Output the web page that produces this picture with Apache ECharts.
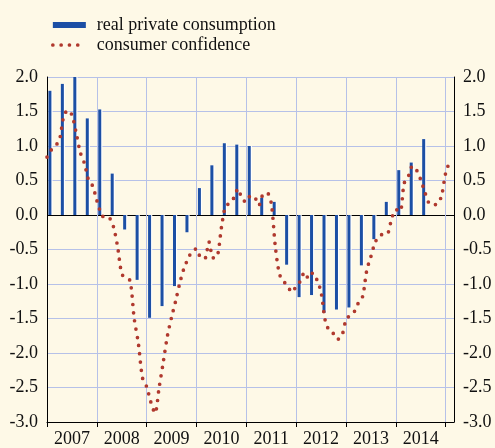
<!DOCTYPE html>
<html>
<head>
<meta charset="utf-8">
<script src="https://cdn.jsdelivr.net/npm/echarts@6/dist/echarts.min.js"></script>
<style>
  html, body { margin: 0; padding: 0; background: #fef9e7; }
  #main { width: 495px; height: 448px; }
</style>
</head>
<body>
<div id="main"></div>
<script>
// year labels, one per year block
var years = ['2007', '2008', '2009', '2010', '2011', '2012', '2013', '2014'];
// real private consumption, quarterly from 2007Q1 (last one 2014Q3)
var consumption = [1.8, 1.9, 2.0, 1.4,
    1.53, 0.6, -0.21, -0.94,
    -1.49, -1.32, -1.03, -0.25,
    0.39, 0.72, 1.04, 1.02,
    1.0, 0.25, 0.19, -0.72,
    -1.19, -1.16, -1.42, -1.37,
    -1.34, -0.73, -0.35, 0.19,
    0.65, 0.76, 1.1];
// consumer confidence, monthly from Jan 2007
var confidence = [0.84, 0.94, 1.00, 1.09, 1.42, 1.52, 1.45, 1.20, 0.91, 0.75, 0.51, 0.42,
    0.21, 0.03, -0.05, -0.05, -0.17, -0.46, -0.85, -0.92, -0.95, -1.50, -1.86, -2.36,
    -2.49, -2.71, -2.87, -2.50, -2.13, -1.75, -1.48, -1.24, -0.98, -0.77, -0.63, -0.52,
    -0.49, -0.62, -0.63, -0.39, -0.62, -0.60, -0.18, 0.13, 0.17, 0.25, 0.38, 0.23,
    0.19, 0.28, 0.26, 0.14, 0.30, 0.32, 0.17, -0.47, -0.86, -0.96, -1.04, -1.12,
    -1.03, -0.96, -0.83, -0.92, -0.84, -0.94, -1.12, -1.53, -1.68, -1.72, -1.80, -1.75,
    -1.52, -1.45, -1.40, -1.27, -1.18, -0.80, -0.60, -0.40, -0.30, -0.28, -0.27, -0.05,
    0.08, 0.05, 0.46, 0.56, 0.71, 0.65, 0.51, 0.33, 0.17, 0.15, 0.16, 0.28,
    0.61, 0.78];

var gridColor = '#b6c1e8';
var font = 'Liberation Serif';
var dotColor = '#b0392e';

// x axis is counted in months from Jan 2007
var barData = [];
for (var i = 0; i < consumption.length; i++) {
    barData.push([i * 3 + 0.7, consumption[i]]);
}
var lineData = [];
for (var j = 0; j < confidence.length; j++) {
    lineData.push([j, confidence[j]]);
}
var yearTicks = [];
var yearMids = [];
for (var k = 0; k < years.length; k++) {
    yearMids.push(k * 12 + 6);
}
for (var k = 0; k <= years.length; k++) {
    yearTicks.push(k * 12);
}

// grid colour per split line, black at zero
var splitColors = [];
for (var s = 0; s <= 10; s++) {
    splitColors.push(s === 6 ? '#000' : gridColor);
}

var yAxisBase = {
    type: 'value',
    min: -3,
    max: 2,
    interval: 0.5,
    axisLine: { show: true, lineStyle: { color: '#000', width: 1 } },
    axisTick: { show: false },
    axisLabel: {
        margin: 9,
        color: '#111',
        fontFamily: font,
        fontSize: 18,
        formatter: function (v) { return v.toFixed(1); }
    }
};

var chart = echarts.init(document.getElementById('main'));
var option = {
    backgroundColor: '#fef9e7',
    animation: false,
    textStyle: { fontFamily: font },
    legend: {
        orient: 'vertical',
        left: 46,
        top: 11,
        itemWidth: 33,
        itemHeight: 6,
        itemGap: 2,
        textStyle: { fontFamily: font, fontSize: 18, color: '#111', padding: [0, 0, 0, 6] },
        data: [
            { name: 'real private consumption', icon: 'rect' },
            {
                name: 'consumer confidence',
                itemStyle: { opacity: 0 },
                lineStyle: { width: 3.7, color: dotColor, type: [0, 8.3], cap: 'round' }
            }
        ]
    },
    grid: { left: 47, right: 41, top: 77, bottom: 25, containLabel: false },
    xAxis: {
        type: 'value',
        min: 0,
        max: 98,
        interval: 12,
        axisLine: { show: true, onZero: false, lineStyle: { color: '#000', width: 1 } },
        axisTick: { show: true, inside: false, length: 5, customValues: yearTicks, lineStyle: { color: '#000' } },
        splitLine: { show: true, lineStyle: { color: gridColor, width: 1 } },
        axisLabel: {
            customValues: yearMids,
            margin: 8,
            color: '#111',
            fontFamily: font,
            fontSize: 18,
            formatter: function (v) { return years[Math.round((v - 6) / 12)]; }
        }
    },
    yAxis: [
        echarts.util.merge({
            position: 'left',
            splitLine: { show: true, lineStyle: { color: splitColors, width: 1 } }
        }, yAxisBase, true),
        echarts.util.merge({
            position: 'right',
            splitLine: { show: false }
        }, yAxisBase, true)
    ],
    series: [
        {
            name: 'real private consumption',
            type: 'bar',
            barWidth: 3,
            data: barData,
            itemStyle: {
                color: '#1c4fa5',
                shadowColor: 'rgba(255,255,255,0.95)',
                shadowOffsetX: 1.2,
                shadowBlur: 0
            }
        },
        {
            name: 'consumer confidence',
            type: 'line',
            data: lineData,
            smooth: 0.3,
            symbol: 'none',
            z: 5,
            itemStyle: { color: dotColor },
            lineStyle: { color: dotColor, width: 3.7, type: [0, 8.3], cap: 'round' }
        }
    ]
};
chart.setOption(option);
</script>
</body>
</html>
